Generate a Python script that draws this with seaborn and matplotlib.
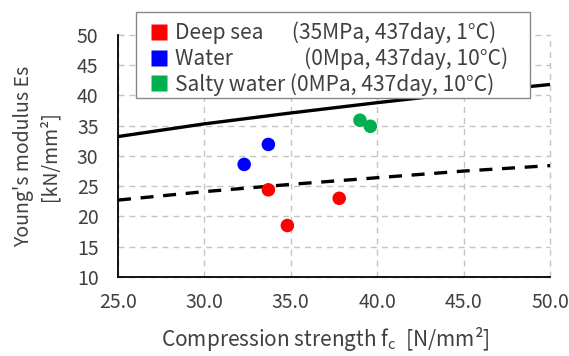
import matplotlib
matplotlib.use("Agg")
import matplotlib.pyplot as plt
import seaborn as sns
import pandas as pd
from matplotlib.lines import Line2D
from matplotlib.patches import Rectangle

sns.set_theme(style="white")
plt.rcParams['font.family'] = ['Noto Sans CJK JP', 'DejaVu Sans']

# ---- data ----
groups = ["Deep sea", "Deep sea", "Deep sea", "Water", "Water", "Salty water", "Salty water"]
fc = [33.7, 34.8, 37.8, 32.3, 33.7, 39.0, 39.6]
es = [24.4, 18.5, 23.0, 28.6, 31.9, 35.9, 34.9]

curve_x = [25.0, 30.0, 35.0, 40.0, 45.0, 50.0]
solid_es = [33.2, 35.3, 37.1, 38.8, 40.4, 41.8]
dashed_es = [22.7, 24.1, 25.3, 26.4, 27.5, 28.4]

legend_labels = ["Deep sea      (35MPa, 437day, 1°C)",
                 "Water               (0Mpa, 437day, 10°C)",
                 "Salty water (0MPa, 437day, 10°C)"]
palette = {"Deep sea": "#FF0000", "Water": "#0000FF", "Salty water": "#00B050"}

xticks = [25.0, 30.0, 35.0, 40.0, 45.0, 50.0]
yticks = [10, 15, 20, 25, 30, 35, 40, 45, 50]

pts = pd.DataFrame({"group": groups, "fc": fc, "es": es})
curves = pd.DataFrame({"fc": curve_x, "solid": solid_es, "dashed": dashed_es})

fig = plt.figure(figsize=(5.69, 3.56), dpi=100)
ax = fig.add_axes([0.2074, 0.222, 0.7593, 0.68])

sns.lineplot(data=curves, x="fc", y="solid", color="black", lw=2.4, ax=ax, zorder=3)
sns.lineplot(data=curves, x="fc", y="dashed", color="black", lw=2.4, ax=ax, zorder=3,
             linestyle=(0, (3.9, 2.9)))
sns.scatterplot(data=pts, x="fc", y="es", hue="group", palette=palette, s=95,
                edgecolor="none", ax=ax, legend=False, zorder=4)

ax.set_xlim(25, 50)
ax.set_ylim(10, 50)
ax.set_xticks(xticks)
ax.set_xticklabels([f"{v:.1f}" for v in xticks])
ax.set_yticks(yticks)
ax.set_yticklabels([str(v) for v in yticks])
ax.grid(True, color="#C4C4C4", linestyle=(0, (4.3, 3.6)), lw=1.0)
for gl in ax.get_xgridlines() + ax.get_ygridlines():
    gl.set_clip_on(False)
ax.tick_params(axis="both", direction="in", length=5, width=1.2, color="black",
               labelsize=14, labelcolor="#404040")
ax.tick_params(axis="x", pad=11)
ax.tick_params(axis="y", pad=14)
for s in ["top", "right"]:
    ax.spines[s].set_visible(False)
for s in ["left", "bottom"]:
    ax.spines[s].set_color("black")
    ax.spines[s].set_linewidth(1.3)
    ax.spines[s].set_zorder(5)

ax.set_xlabel("Compression strength f$_{\\mathregular{c}}$  [N/mm²]", fontsize=15,
              color="#404040")
ax.xaxis.set_label_coords(0.48, -0.2)
ax.set_ylabel("Young's modulus Es\n[kN/mm²]", fontsize=14, color="#404040",
              labelpad=12, linespacing=1.3)

# legend frame
frame = Rectangle((0.239, 0.7247), 0.6925, 0.2416, transform=fig.transFigure,
                  facecolor="white", edgecolor="#888888", lw=1.0, zorder=9)
fig.add_artist(frame)

handles = [Line2D([], [], marker="s", linestyle="none", markersize=11,
                  markerfacecolor=palette[g], markeredgecolor="none")
           for g in ["Deep sea", "Water", "Salty water"]]
leg = fig.legend(handles, legend_labels, loc="upper left",
                 bbox_to_anchor=(0.262, 0.9396),
                 fontsize=15.1, frameon=False, handlelength=0.9,
                 handletextpad=0.35, labelspacing=0.15, borderpad=0.0,
                 borderaxespad=0)
leg.set_zorder(10)
for t in leg.get_texts():
    t.set_color("#404040")

fig.savefig("out.png", dpi=100)
